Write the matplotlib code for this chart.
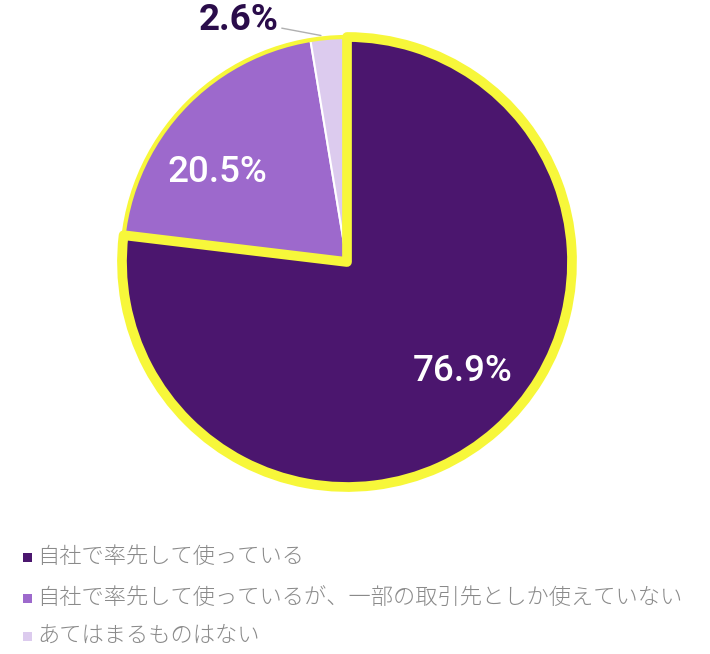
import matplotlib.pyplot as plt
import numpy as np
from matplotlib.patches import Wedge, Rectangle

plt.rcParams['font.family'] = ['Noto Sans CJK JP', 'DejaVu Sans']

# data
labels = ['自社で率先して使っている',
          '自社で率先して使っているが、一部の取引先としか使えていない',
          'あてはまるものはない']
values = [76.9, 20.5, 2.6]
colors = ['#4b166e', '#9d69cc', '#dccbee']
YELLOW = '#f7f73a'

fig = plt.figure(figsize=(7.10, 6.54), dpi=100)
ax = fig.add_axes([122 / 710, 167 / 654, 450 / 710, 450 / 654])

wedges, _ = ax.pie(values, colors=colors, startangle=90, counterclock=False,
                   radius=1.0, wedgeprops=dict(edgecolor='white', linewidth=1.5))
ax.set_xlim(-1.0, 1.0)
ax.set_ylim(-1.0, 1.0)
ax.set_aspect('equal')
ax.axis('off')

# thin yellow rim round the whole pie
rim = plt.Circle((0, 0), 1.0, fill=False, edgecolor=YELLOW, linewidth=3,
                 zorder=3, clip_on=False)
ax.add_patch(rim)

# thick yellow outline on the first slice
w0 = wedges[0]
hl = Wedge((0, 0), 1.0, w0.theta1, w0.theta2, facecolor='none',
           edgecolor=YELLOW, linewidth=7, joinstyle='round', zorder=4, clip_on=False)
ax.add_patch(hl)

# value labels (angle nudge, radius)
label_pos = [(5, 0.71), (9, 0.70)]
for i, (w, v) in enumerate(zip(wedges, values)):
    mid_deg = (w.theta1 + w.theta2) / 2
    if i < 2:
        d, r = label_pos[i]
        mid = np.deg2rad(mid_deg + d)
        ax.text(r * np.cos(mid), r * np.sin(mid), f'{v}%', color='white',
                fontsize=26.5, fontweight='medium', family=['Roboto', 'DejaVu Sans'],
                ha='center', va='center', zorder=5)
    else:
        mid = np.deg2rad(mid_deg)
        x0, y0 = 0.93 * np.cos(mid), 1.0 * np.sin(mid)
        ax.annotate(f'{v}%', xy=(x0 - 0.04, y0 + 0.01), xytext=(-0.48, 1.075),
                    color='#2a0c4a', fontsize=26.5, fontweight='bold',
                    family=['Roboto', 'DejaVu Sans'], ha='center', va='center',
                    annotation_clip=False,
                    arrowprops=dict(arrowstyle='-', color='#b0b0b0', lw=1,
                                    shrinkA=40, shrinkB=0), zorder=5)

# legend
ys = [557, 598, 636]
for lab, c, y in zip(labels, colors, ys):
    fig.patches.append(Rectangle((23 / 710, (654 - y - 5) / 654), 9 / 710, 9 / 654,
                                 transform=fig.transFigure, facecolor=c, edgecolor='none'))
    fig.text(37 / 710, (654 - y) / 654, lab, fontsize=16, color='#8a8a8a',
             ha='left', va='center', fontweight='light')

fig.savefig('out.png', dpi=100)
